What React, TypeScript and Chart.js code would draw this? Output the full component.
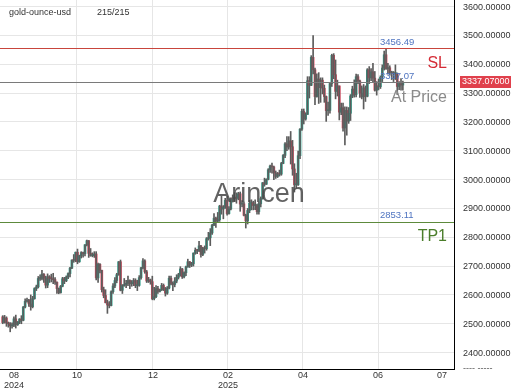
import React, { useEffect, useRef } from "react";
import { Chart, registerables } from "chart.js";

Chart.register(...registerables);

// ---- data (daily candles, gold-ounce-usd) ----
const opens = [
  2524, 2504, 2520,
  2503, 2500, 2493, 2495, 2517, 2497, 2506, 2516, 2512, 2558, 2578, 2582, 2569, 2559, 2587, 2622, 2628, 2657, 2657, 2672, 2658,
  2634, 2663, 2657, 2656, 2653, 2644, 2622, 2608, 2630, 2656, 2649, 2662, 2674, 2693, 2721, 2720, 2748, 2715, 2736, 2747, 2743, 2774, 2788,
  2744, 2736, 2736, 2742, 2659, 2706, 2685, 2618, 2598, 2573, 2565, 2563, 2611, 2631, 2650, 2670, 2715, 2616, 2632, 2636, 2640,
  2650, 2639, 2643, 2650, 2632, 2633, 2660, 2694, 2718, 2680, 2648, 2652, 2646, 2587, 2594, 2622, 2612, 2618, 2633, 2621, 2606,
  2624, 2658, 2640, 2636, 2648, 2661, 2670, 2690, 2663, 2677, 2697, 2715, 2703, 2708, 2745, 2755, 2754, 2770, 2740, 2763, 2760, 2795,
  2798, 2815, 2842, 2866, 2856, 2861, 2908, 2898, 2904, 2928, 2882, 2898, 2935, 2933, 2939, 2935, 2951, 2915, 2916, 2876,
  2857, 2893, 2918, 2920, 2910, 2910, 2889, 2916, 2934, 2989, 2984, 3001, 3034, 3047, 3044, 3023, 3011, 3020, 3019, 3056, 3084,
  3124, 3113, 3134, 3114, 3037, 2982, 2982, 3083, 3175, 3237, 3210, 3226, 3343, 3327, 3424, 3381, 3288, 3349, 3319, 3345, 3317,
  3288, 3239, 3240, 3333, 3431, 3364, 3306, 3325, 3234, 3249, 3179, 3240, 3203, 3230, 3290, 3314, 3295, 3357, 3342, 3300, 3287, 3318,
  3289, 3381, 3353, 3374, 3352, 3310, 3325, 3322, 3355, 3387, 3433, 3385, 3388, 3370, 3370, 3368, 3368, 3323, 3333, 3328,
];
const highs = [
  2528, 2529, 2524,
  2506, 2504, 2503, 2524, 2530, 2508, 2518, 2528, 2560, 2586, 2589, 2585, 2600, 2595, 2625, 2634, 2664, 2670, 2685, 2674, 2665,
  2673, 2667, 2672, 2675, 2660, 2645, 2624, 2633, 2661, 2661, 2666, 2677, 2696, 2722, 2740, 2749, 2759, 2738, 2750, 2749, 2775, 2790, 2789,
  2761, 2746, 2750, 2750, 2710, 2709, 2686, 2627, 2618, 2582, 2577, 2614, 2639, 2660, 2675, 2716, 2721, 2636, 2657, 2651, 2665,
  2652, 2650, 2657, 2656, 2651, 2667, 2696, 2726, 2722, 2685, 2661, 2655, 2665, 2626, 2632, 2630, 2620, 2640, 2638, 2626, 2629,
  2665, 2665, 2645, 2660, 2670, 2675, 2698, 2692, 2680, 2700, 2724, 2716, 2713, 2746, 2763, 2758, 2786, 2772, 2765, 2770, 2799, 2817,
  2830, 2845, 2882, 2870, 2886, 2911, 2942, 2910, 2935, 2942, 2906, 2937, 2947, 2955, 2954, 2956, 2957, 2927, 2922, 2880,
  2900, 2928, 2930, 2925, 2930, 2915, 2922, 2940, 2990, 3005, 3003, 3038, 3050, 3057, 3047, 3030, 3025, 3033, 3060, 3087, 3128,
  3149, 3149, 3167, 3136, 3055, 3022, 3099, 3177, 3245, 3245, 3232, 3357, 3357, 3430, 3500, 3387, 3367, 3371, 3353, 3353, 3328,
  3290, 3269, 3337, 3435, 3437, 3415, 3345, 3325, 3265, 3265, 3252, 3252, 3250, 3295, 3324, 3346, 3366, 3364, 3345, 3325, 3330, 3325,
  3385, 3392, 3385, 3403, 3375, 3340, 3349, 3360, 3398, 3446, 3452, 3403, 3395, 3376, 3375, 3398, 3370, 3340, 3350, 3342,
];
const lows = [
  2500, 2502, 2491,
  2488, 2472, 2485, 2490, 2485, 2494, 2500, 2500, 2510, 2555, 2575, 2560, 2547, 2555, 2585, 2615, 2624, 2650, 2652, 2643, 2624,
  2625, 2643, 2645, 2639, 2636, 2605, 2604, 2606, 2628, 2639, 2646, 2656, 2662, 2691, 2713, 2715, 2708, 2713, 2728, 2731, 2735, 2770, 2730,
  2734, 2732, 2730, 2652, 2643, 2676, 2610, 2590, 2572, 2536, 2555, 2562, 2605, 2625, 2642, 2668, 2614, 2605, 2630, 2625, 2632,
  2622, 2630, 2632, 2625, 2615, 2630, 2655, 2690, 2675, 2643, 2643, 2637, 2583, 2583, 2590, 2605, 2610, 2615, 2615, 2596, 2602,
  2621, 2635, 2615, 2628, 2642, 2655, 2665, 2657, 2659, 2667, 2696, 2695, 2698, 2700, 2741, 2743, 2750, 2731, 2736, 2745, 2755, 2790,
  2771, 2810, 2840, 2834, 2853, 2855, 2880, 2864, 2900, 2877, 2880, 2895, 2922, 2925, 2918, 2930, 2890, 2905, 2874, 2832,
  2846, 2885, 2895, 2895, 2896, 2880, 2880, 2905, 2932, 2977, 2983, 2999, 3025, 3022, 3000, 3004, 3007, 3012, 3015, 3055, 3076,
  3100, 3105, 3054, 3015, 2957, 2970, 2980, 3073, 3171, 3193, 3206, 3226, 3283, 3326, 3367, 3260, 3286, 3264, 3268, 3297, 3268,
  3202, 3223, 3230, 3323, 3350, 3280, 3290, 3207, 3225, 3168, 3120, 3154, 3195, 3205, 3284, 3286, 3287, 3333, 3285, 3280, 3245, 3271,
  3287, 3333, 3343, 3339, 3307, 3293, 3311, 3316, 3340, 3380, 3382, 3366, 3362, 3347, 3340, 3347, 3295, 3312, 3310, 3310,
];
const closes = [
  2504, 2520, 2503,
  2500, 2493, 2495, 2517, 2497, 2506, 2516, 2512, 2558, 2578, 2582, 2569, 2559, 2587, 2622, 2628, 2657, 2657, 2672, 2658, 2634,
  2663, 2657, 2656, 2653, 2644, 2622, 2608, 2630, 2656, 2649, 2662, 2674, 2693, 2721, 2720, 2748, 2715, 2736, 2747, 2743, 2774, 2788, 2744,
  2736, 2736, 2742, 2659, 2706, 2685, 2618, 2598, 2573, 2565, 2563, 2611, 2631, 2650, 2670, 2715, 2616, 2632, 2636, 2640, 2650,
  2639, 2643, 2650, 2632, 2633, 2660, 2694, 2718, 2680, 2648, 2652, 2646, 2587, 2594, 2622, 2612, 2618, 2633, 2621, 2606, 2624,
  2658, 2640, 2636, 2648, 2661, 2670, 2690, 2663, 2677, 2697, 2715, 2703, 2708, 2745, 2755, 2754, 2770, 2740, 2763, 2760, 2795, 2798,
  2815, 2842, 2866, 2856, 2861, 2908, 2898, 2904, 2928, 2882, 2898, 2935, 2933, 2939, 2935, 2951, 2915, 2916, 2876, 2857,
  2893, 2918, 2920, 2910, 2910, 2889, 2916, 2934, 2989, 2984, 3001, 3034, 3047, 3044, 3023, 3011, 3020, 3019, 3056, 3084, 3124,
  3113, 3134, 3114, 3037, 2982, 2982, 3083, 3175, 3237, 3210, 3226, 3343, 3327, 3424, 3381, 3288, 3349, 3319, 3345, 3317, 3288,
  3239, 3240, 3333, 3431, 3364, 3306, 3325, 3234, 3249, 3179, 3240, 3203, 3230, 3290, 3314, 3295, 3357, 3342, 3300, 3287, 3318, 3289,
  3381, 3353, 3374, 3352, 3310, 3325, 3322, 3355, 3387, 3433, 3385, 3388, 3370, 3370, 3368, 3368, 3323, 3333, 3328, 3337.07,
];

// x-axis month ticks (in candle-index units) and their labels
const monthTicks = [6.04, 39.73, 80.37, 120.48, 160.59, 200.7, 234.9];
const monthLabels: string[][] = [["08", "2024"], ["10"], ["12"], ["02", "2025"], ["04"], ["06"], ["07"]];

const xMin = -1.444;
const xMax = 241.34;
const yMin = 2343;
const yMax = 3623;
const yStep = 100;

const slLevel = 3456.49;
const priceLevel = 3337.07;
const tpLevel = 2853.11;

const symbolName = "gold-ounce-usd";
const counterText = "215/215";
const watermark = "Arincen";

const UP = "#26a58e";
const DOWN = "#e0435a";
const WICK = "#5c5c5c";
const FONT = "'Liberation Sans', Arial, Helvetica, sans-serif";

const overlay = {
  id: "overlay",
  afterDatasetsDraw(chart: any) {
    const { ctx, chartArea: a, scales } = chart;
    const y = scales.y;
    ctx.save();

    // watermark
    ctx.font = `27px ${FONT}`;
    ctx.fillStyle = "rgba(70,70,70,0.85)";
    ctx.textAlign = "center";
    ctx.textBaseline = "alphabetic";
    ctx.fillText(watermark, 259, 202);

    const hline = (v: number, color: string) => {
      const py = Math.round(y.getPixelForValue(v)) + 0.5;
      ctx.strokeStyle = color;
      ctx.lineWidth = 1;
      ctx.beginPath();
      ctx.moveTo(a.left, py);
      ctx.lineTo(a.right, py);
      ctx.stroke();
      return py;
    };
    const slY = hline(slLevel, "#c8453c");
    const prY = hline(priceLevel, "#7a7a7a");
    const tpY = hline(tpLevel, "#5d8a3c");

    // small blue level labels
    ctx.font = `9.5px ${FONT}`;
    ctx.fillStyle = "#4f74c0";
    ctx.textAlign = "left";
    ctx.textBaseline = "middle";
    ctx.fillText(slLevel.toFixed(2), 380, slY - 6);
    ctx.fillText(priceLevel.toFixed(2), 380, prY - 6);
    ctx.fillText(tpLevel.toFixed(2), 380, tpY - 7);

    // big labels
    ctx.font = `16px ${FONT}`;
    ctx.textAlign = "right";
    ctx.textBaseline = "alphabetic";
    ctx.fillStyle = "#d42a35";
    ctx.fillText("SL", 447, 68);
    ctx.fillStyle = "#8a8a8a";
    ctx.fillText("At Price", 447, 102);
    ctx.fillStyle = "#4a7d2a";
    ctx.fillText("TP1", 447, 241);

    ctx.restore();
  },
  afterDraw(chart: any) {
    const { ctx, scales, chartArea: a } = chart;
    const y = scales.y;
    const x = scales.x;
    ctx.save();
    ctx.font = `9px ${FONT}`;
    ctx.fillStyle = "#333";
    ctx.textAlign = "left";
    ctx.textBaseline = "middle";

    // header texts
    ctx.fillText(symbolName, 9, 13);
    ctx.fillText(counterText, 97, 13);

    // y-axis labels
    for (let v = 2400; v <= 3600; v += yStep) {
      ctx.fillText(v.toFixed(5), 463, y.getPixelForValue(v) + 0.5);
    }
    // clipped label remnant under the axis
    ctx.fillStyle = "#555";
    ctx.fillText("---- -----", 463, 369);

    // x-axis labels
    ctx.fillStyle = "#333";
    ctx.textAlign = "center";
    monthTicks.forEach((t, i) => {
      const px = x.getPixelForValue(t);
      monthLabels[i].forEach((line, j) => {
        ctx.fillText(line, px, a.bottom + 7 + j * 10);
      });
    });

    // price tag
    const py = Math.round(y.getPixelForValue(priceLevel));
    ctx.fillStyle = "#e0404c";
    ctx.fillRect(460, py - 6, 51, 12);
    ctx.fillStyle = "#ffffff";
    ctx.textAlign = "left";
    ctx.fillText(priceLevel.toFixed(5), 462, py);
    ctx.restore();
  },
};

export default function App() {
  const ref = useRef<HTMLCanvasElement | null>(null);

  useEffect(() => {
    if (!ref.current) return;
    Chart.defaults.font.family = FONT;
    const wickData = closes.map((c, i) => ({
      x: i,
      y: [Math.min(lows[i], opens[i], c), Math.max(highs[i], opens[i], c)],
    }));
    const bodyData = closes.map((c, i) => ({ x: i, y: [opens[i], c] }));
    const bodyColors = closes.map((c, i) => (c >= opens[i] ? UP : DOWN));

    const chart = new Chart(ref.current, {
      type: "bar",
      data: {
        datasets: [
          {
            data: wickData as any,
            backgroundColor: WICK,
            barThickness: 1,
            grouped: false,
            order: 1,
          } as any,
          {
            data: bodyData as any,
            backgroundColor: bodyColors,
            barThickness: 2,
            minBarLength: 1,
            grouped: false,
            order: 2,
          } as any,
        ],
      },
      options: {
        animation: false,
        responsive: false,
        devicePixelRatio: 1,
        layout: { padding: 0 },
        plugins: { legend: { display: false }, tooltip: { enabled: false } },
        scales: {
          x: {
            type: "linear",
            min: xMin,
            max: xMax,
            offset: false,
            afterBuildTicks: (s: any) => {
              s.ticks = monthTicks.map((v) => ({ value: v }));
            },
            afterFit: (s: any) => {
              s.height = 21;
            },
            ticks: { display: false },
            grid: {
              offset: false,
              drawTicks: false,
              color: (c: any) => (c.index === 0 || c.index === 6 ? "rgba(0,0,0,0)" : "#e6e6e6"),
            },
            border: { color: "#000", width: 1 },
          },
          y: {
            position: "right",
            min: yMin,
            max: yMax,
            afterFit: (s: any) => {
              s.width = 66;
            },
            ticks: { display: false, stepSize: yStep, includeBounds: false },
            grid: { drawTicks: false, color: "#e6e6e6" },
            border: { color: "#000", width: 1 },
          },
        },
      },
      plugins: [overlay],
    });
    return () => chart.destroy();
  }, []);

  return (
    <div style={{ position: "fixed", left: 0, top: 0, width: 520, height: 390, background: "#fff" }}>
      <canvas ref={ref} width={520} height={390} style={{ display: "block" }} />
    </div>
  );
}
